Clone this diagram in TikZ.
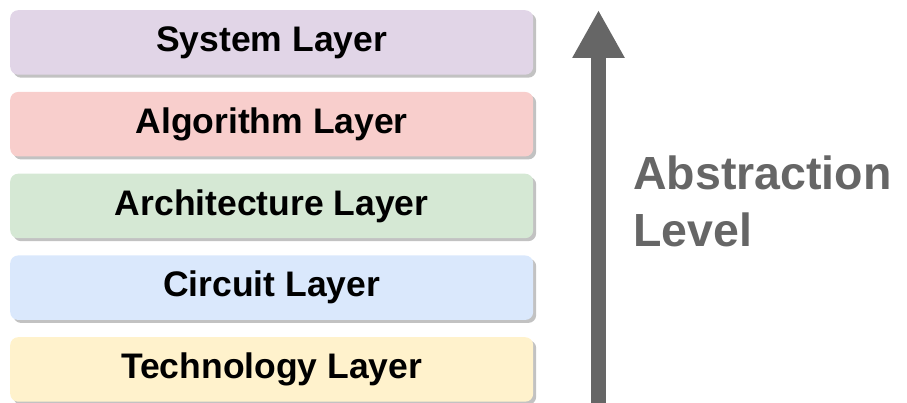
\documentclass[tikz,border=0pt]{standalone}
\usepackage{fontspec}
\setmainfont{Liberation Sans}
\usetikzlibrary{arrows.meta,shadows}
\definecolor{sysfill}{HTML}{E1D5E7}
\definecolor{algfill}{HTML}{F8CECC}
\definecolor{archfill}{HTML}{D5E8D4}
\definecolor{circfill}{HTML}{DAE8FC}
\definecolor{techfill}{HTML}{FFF2CC}
\definecolor{shadowgray}{HTML}{C2C2C2}
\definecolor{levelgray}{HTML}{666666}
\tikzset{
  layerbox/.style={
    rectangle, rounded corners=8pt, draw=none,
    minimum width=523pt, minimum height=64.5pt, inner sep=0pt,
    anchor=north west,
    font=\bfseries\fontsize{35.5}{40}\selectfont, text=black,
    drop shadow={shadow xshift=3pt, shadow yshift=-3pt, fill=shadowgray, opacity=1}
  },
  levelarrow/.style={
    draw=levelgray, line width=15pt,
    -{Triangle[width=49pt,length=48pt,fill=levelgray]}
  },
  leveltext/.style={
    inner sep=0pt, align=left, text=levelgray,
    font=\bfseries\fontsize{46.5}{57}\selectfont
  }
}
\begin{document}
\begin{tikzpicture}[x=1pt,y=-1pt]
  \useasboundingbox (0,0) rectangle (907,403);

  % the five layers, bottom to top
  \node[layerbox, fill=sysfill]  (system)  at (10,10)     {System Layer};
  \node[layerbox, fill=algfill]  (algo)    at (10,91.75)  {Algorithm Layer};
  \node[layerbox, fill=archfill] (arch)    at (10,173.5)  {Architecture Layer};
  \node[layerbox, fill=circfill] (circuit) at (10,255.25) {Circuit Layer};
  \node[layerbox, fill=techfill] (tech)    at (10,337)    {Technology Layer};

  % upward arrow for increasing abstraction
  \coordinate (arrowbase) at (598.5,403);
  \coordinate (arrowtip)  at (598.5,10);
  \draw[levelarrow] (arrowbase) -- (arrowtip);

  % base anchor sits on the baseline of the last line
  \node[leveltext, anchor=base west] (level) at (633,247) {Abstraction\\Level};
\end{tikzpicture}
\end{document}
